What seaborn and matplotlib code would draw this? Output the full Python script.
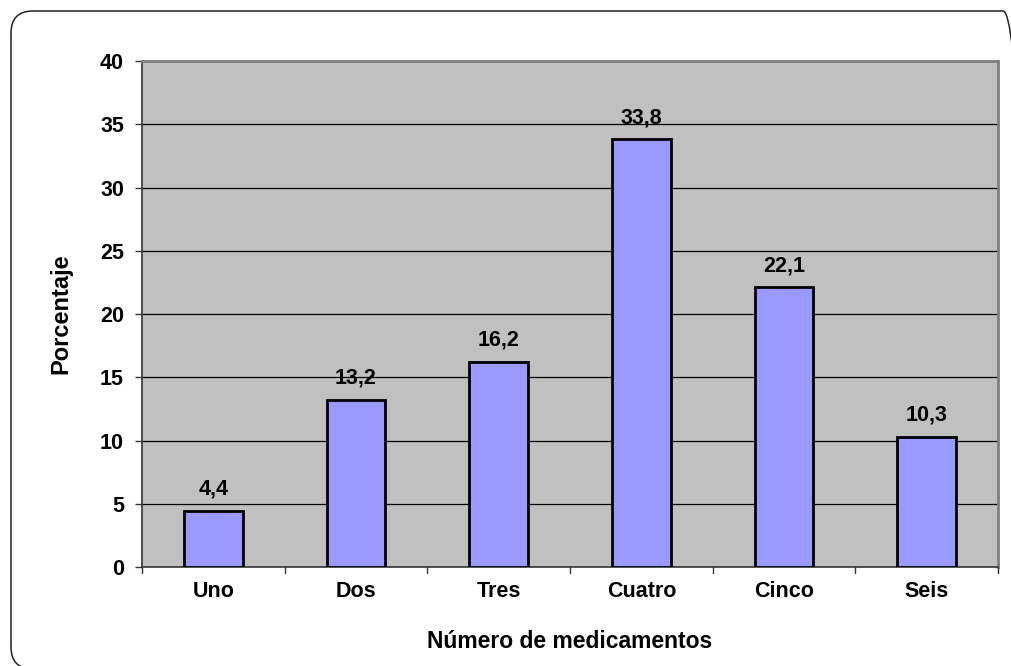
import matplotlib
matplotlib.use("Agg")
import matplotlib.pyplot as plt
from matplotlib.patches import FancyBboxPatch
from matplotlib.transforms import IdentityTransform
import seaborn as sns
import pandas as pd

categorias = ["Uno", "Dos", "Tres", "Cuatro", "Cinco", "Seis"]
porcentajes = [4.4, 13.2, 16.2, 33.8, 22.1, 10.3]
yticks = [0, 5, 10, 15, 20, 25, 30, 35, 40]

sns.set_style("white")
plt.rcParams["font.family"] = ["Liberation Sans", "DejaVu Sans"]
plt.rcParams["font.weight"] = "bold"
plt.rcParams["text.color"] = "black"
plt.rcParams["axes.labelcolor"] = "black"
plt.rcParams["xtick.color"] = "black"
plt.rcParams["ytick.color"] = "black"

df = pd.DataFrame({"cat": categorias, "pct": porcentajes})

fig = plt.figure(figsize=(10.11, 6.66), dpi=100)
ax = fig.add_axes([0.1405, 0.1486, 0.8466, 0.7598])

# rounded frame around the chart area (pixel coordinates)
frame = FancyBboxPatch((11, -3), 1014, 658,
                       boxstyle="round,pad=0,rounding_size=22",
                       transform=IdentityTransform(), facecolor="none",
                       edgecolor="#222222", linewidth=1.1, clip_on=False)
fig.patches.append(frame)

ax.set_facecolor("#C0C0C0")
sns.barplot(data=df, x="cat", y="pct", ax=ax, color="#9999FF",
            saturation=1, width=0.41, edgecolor="black", linewidth=2,
            zorder=3)

ax.set_ylim(0, 40)
ax.set_xlim(-0.5, len(categorias) - 0.5)
ax.set_yticks(yticks)
ax.set_yticklabels([str(t) for t in yticks], fontsize=15.5, fontweight="bold")
ax.set_xticks(range(len(categorias)))
ax.set_xticklabels(categorias, fontsize=15.5, fontweight="bold")
ax.yaxis.grid(True, color="black", linewidth=0.9, zorder=1)
ax.set_axisbelow(True)

# category boundary ticks below the x axis
ax.tick_params(axis="x", length=0, pad=10)
for b in [i - 0.5 for i in range(len(categorias) + 1)]:
    ax.plot([b, b], [0, -0.45], color="#333333", lw=1, clip_on=False, zorder=4)
ax.tick_params(axis="y", length=5, width=1, color="#333333", pad=8,
               left=True)

for side in ["left", "bottom"]:
    ax.spines[side].set_color("#333333")
    ax.spines[side].set_linewidth(1.2)
for side in ["top", "right"]:
    ax.spines[side].set_color("#808080")
    ax.spines[side].set_linewidth(2)

for i, v in enumerate(porcentajes):
    ax.text(i, v + 0.9, f"{v:.1f}".replace(".", ","), ha="center",
            va="bottom", fontsize=15.5, fontweight="bold")

ax.set_xlabel("Número de medicamentos", fontsize=16.5, fontweight="bold",
              labelpad=20)
ax.set_ylabel("Porcentaje", fontsize=17, fontweight="bold", labelpad=20)

fig.savefig("out.png", dpi=100)
